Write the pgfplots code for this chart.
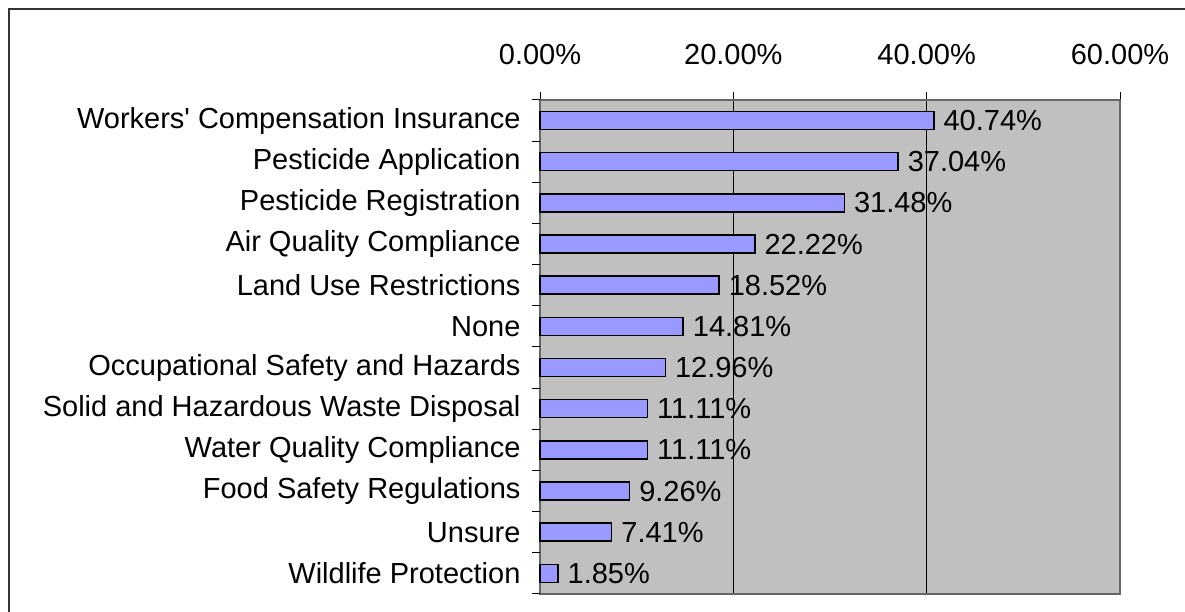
\documentclass[border=0pt]{standalone}
\usepackage{pgfplots}
\pgfplotsset{compat=1.18}
\usepackage{fontspec}
\setmainfont{Liberation Sans}
\definecolor{plotbg}{HTML}{C0C0C0}
\definecolor{barfill}{HTML}{9999FF}
\begin{document}
\begin{tikzpicture}[font=\fontsize{29}{34}\selectfont]
\path[use as bounding box] (0,0) rectangle (1185pt,612pt);
\draw[line width=1.5pt, black!80] (9pt,0) -- (9pt,603pt) -- (1185pt,603pt);
\begin{axis}[
  at={(540pt,18pt)}, anchor=south west,
  scale only axis, width=580pt, height=494pt,
  xbar, bar width=18pt,
  xmin=0, xmax=60, ymin=-0.5, ymax=11.5,
  axis background/.style={fill=plotbg},
  axis line style={black!60, line width=1.5pt},
  xtick={0,20,40,60},
  xticklabels={0.00\%,20.00\%,40.00\%,60.00\%},
  xtick pos=right, xticklabel pos=right,
  ytick pos=left,
  tick align=outside, major tick length=8pt,
  tick style={black, line width=1pt},
  xmajorgrids, major grid style={black, line width=1pt},
  ytick={0,...,11},
  yticklabels={Wildlife Protection,Unsure,Food Safety Regulations,Water Quality Compliance,Solid and Hazardous Waste Disposal,Occupational Safety and Hazards,None,Land Use Restrictions,Air Quality Compliance,Pesticide Registration,Pesticide Application,Workers\textquotesingle\ Compensation Insurance},
  ytick style={draw=none},
  extra y ticks={-0.5,0.5,...,11.5},
  extra y tick labels={},
  extra y tick style={ytick style={draw=black, line width=1pt}, grid=none},
  every tick label/.append style={font=\fontsize{29}{34}\selectfont},
  yticklabel style={xshift=-8pt},
  xticklabel style={yshift=24pt},
  point meta=explicit symbolic,
  nodes near coords={\pgfplotspointmeta\%},
  every node near coord/.append style={anchor=west, inner sep=2pt, xshift=7pt, black, font=\fontsize{29}{34}\selectfont},
  clip=false,
]
\addplot[draw=black, fill=barfill, line width=1.5pt] coordinates {
  (1.85,0) [1.85]
  (7.41,1) [7.41]
  (9.26,2) [9.26]
  (11.11,3) [11.11]
  (11.11,4) [11.11]
  (12.96,5) [12.96]
  (14.81,6) [14.81]
  (18.52,7) [18.52]
  (22.22,8) [22.22]
  (31.48,9) [31.48]
  (37.04,10) [37.04]
  (40.74,11) [40.74]
};
\end{axis}
\end{tikzpicture}
\end{document}
